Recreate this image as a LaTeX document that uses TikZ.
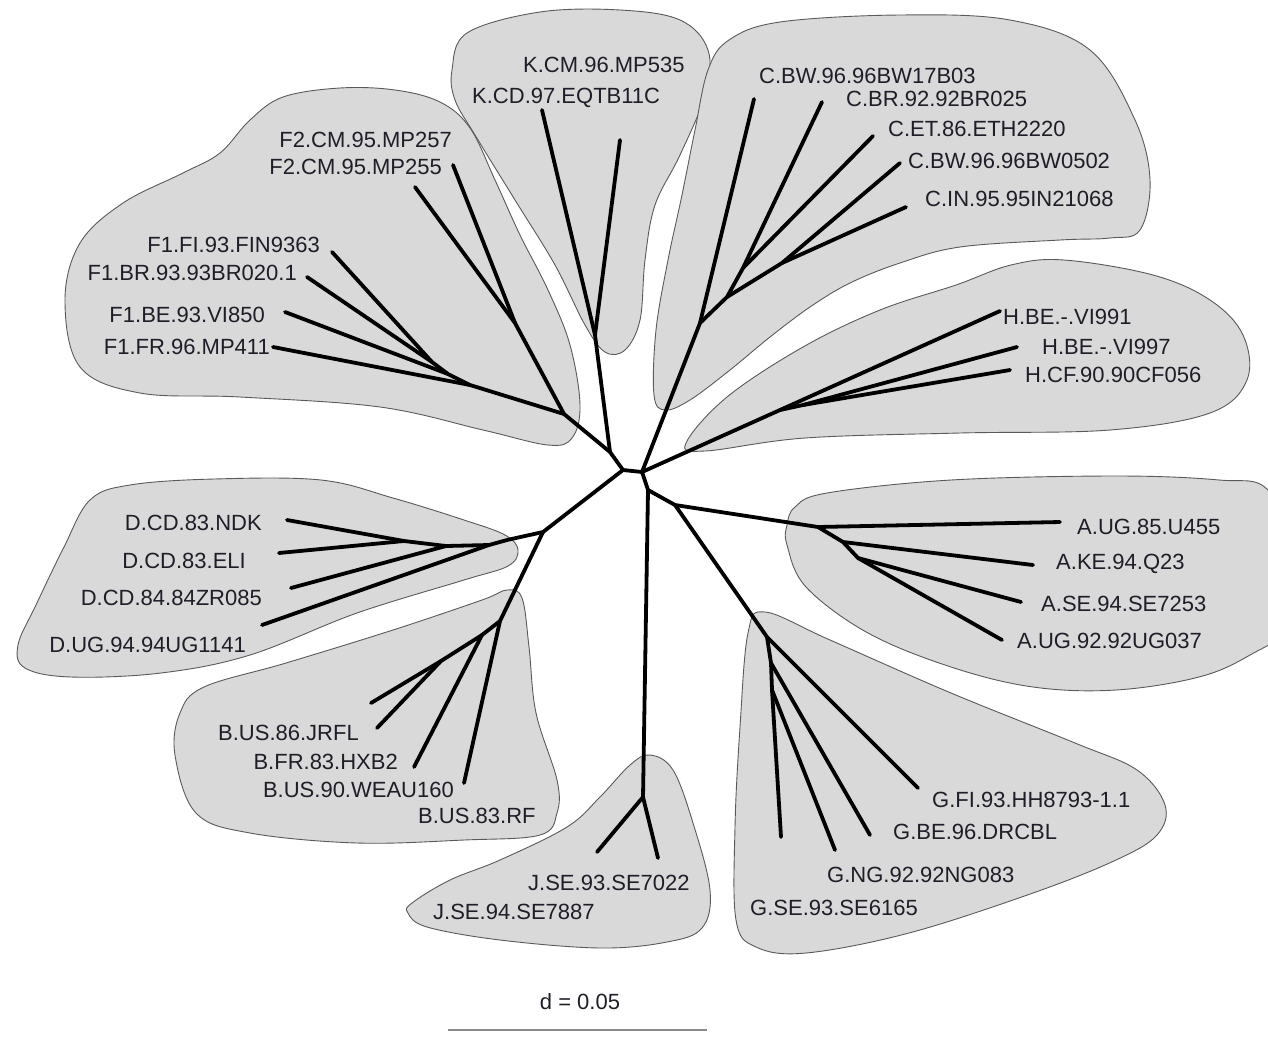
\documentclass[tikz,border=0pt]{standalone}
\usepackage{fontspec}
\setmainfont{Liberation Sans}
\newcommand\mylabfont{\fontsize{22}{26}\selectfont}
\definecolor{blobgray}{HTML}{D9D9D9}
\definecolor{blobline}{HTML}{5A5A5A}
\definecolor{labcol}{HTML}{1E1E28}
\definecolor{barcol}{HTML}{8A8A8A}
\begin{document}
\begin{tikzpicture}[x=1pt,y=-1pt,
  blob/.style={fill=blobgray,draw=blobline,line width=0.9pt},
  br/.style={line width=3.8pt,line cap=round,line join=round},
  labw/.style={font=\mylabfont,inner sep=0pt,text=labcol,anchor=west},
  labe/.style={font=\mylabfont,inner sep=0pt,text=labcol,anchor=east}]
\useasboundingbox (0,0) rectangle (1268,1037);
\clip (0,0) rectangle (1268,1037);
% ---------- blobs ----------
\draw[blob] plot[smooth cycle,tension=0.6] coordinates {(65,300) (80,243) (123,203) (183,173) (220,153) (250,120) (283,97) (340,88) (395,90) (440,102) (470,128) (495,180) (520,235) (548,290) (570,345) (580,405) (572,438) (548,445) (483,430) (380,407) (240,397) (140,393) (80,367)};
\draw[blob] plot[smooth cycle,tension=0.6] coordinates {(452,70) (467,33) (540,12) (620,10) (680,20) (708,50) (705,95) (680,155) (655,205) (645,260) (640,320) (625,350) (605,352) (585,325) (555,265) (515,200) (475,135) (455,100)};
\draw[blob] plot[smooth cycle,tension=0.6] coordinates {(729,40) (780,22) (900,15) (1010,20) (1090,50) (1135,120) (1150,180) (1140,230) (1110,238) (1060,240) (960,247) (900,263) (850,283) (810,307) (770,337) (730,370) (690,400) (665,410) (654,395) (656,330) (668,260) (682,195) (695,130) (708,70)};
\draw[blob] plot[smooth cycle,tension=0.6] coordinates {(686,443) (727,397) (803,347) (880,310) (956,285) (1011,265) (1064,260) (1153,275) (1210,300) (1243,335) (1247,380) (1210,413) (1110,430) (960,433) (805,438) (705,451)};
\draw[blob] plot[smooth cycle,tension=0.6] coordinates {(18,645) (36,605) (64,547) (90,500) (130,485) (214,479) (321,480) (393,498) (464,520) (505,535) (518,550) (508,566) (464,580) (357,613) (250,655) (161,673) (71,677) (25,668)};
\draw[blob] plot[smooth cycle,tension=0.6] coordinates {(175,755) (180,713) (204,687) (286,663) (393,630) (482,600) (507,590) (522,598) (529,647) (536,713) (557,780) (557,813) (540,835) (464,840) (357,843) (250,833) (196,813)};
\draw[blob] plot[smooth cycle,tension=0.6] coordinates {(650,755) (673,770) (693,823) (710,890) (702,928) (667,942) (600,948) (500,940) (427,927) (408,913) (412,903) (450,880) (500,860) (567,827) (600,797) (630,765)};
\draw[blob] plot[smooth cycle,tension=0.6] coordinates {(787,525) (795,507) (827,493) (951,480) (1116,476) (1219,480) (1268,490) (1300,560) (1290,625) (1250,655) (1199,677) (1116,690) (1033,687) (951,667) (868,633) (806,587) (787,545)};
\draw[blob] plot[smooth cycle,tension=0.6] coordinates {(765,612) (830,640) (951,693) (1075,743) (1137,770) (1165,805) (1157,835) (1116,860) (1033,893) (909,933) (806,953) (756,947) (736,920) (735,827) (740,727) (748,633)};
% ---------- tree nodes ----------
\coordinate (N0) at (623,470);
\coordinate (N1) at (642,472);
\coordinate (NFK) at (610,452);
\coordinate (NF) at (564,414);
\coordinate (NF2) at (515,323);
\coordinate (lF2a) at (453,165);
\coordinate (lF2b) at (415,187);
\coordinate (NF1c) at (470,385);
\coordinate (NF1b) at (448,374);
\coordinate (NF1a) at (432,362);
\coordinate (lFR) at (273,347);
\coordinate (lBE) at (285,312);
\coordinate (lFI) at (332,252);
\coordinate (lBR) at (307,277);
\coordinate (NK) at (595,335);
\coordinate (lKCD) at (542,110);
\coordinate (lKCM) at (620,140);
\coordinate (NDB) at (543,532);
\coordinate (ND) at (507,540);
\coordinate (ND3) at (489,545);
\coordinate (ND2) at (446,546);
\coordinate (ND1) at (404,541);
\coordinate (lDUG) at (262,625);
\coordinate (lDZR) at (291,588);
\coordinate (lDNDK) at (287,520);
\coordinate (lDELI) at (279,553);
\coordinate (NB) at (500,621);
\coordinate (NB2) at (482,635);
\coordinate (NB1) at (441,661);
\coordinate (lBRF) at (464,783);
\coordinate (lBWE) at (414,767);
\coordinate (lBJa) at (371,703);
\coordinate (lBJb) at (377,728);
\coordinate (NC4) at (700,323);
\coordinate (NC3) at (727,297);
\coordinate (NC2) at (743,268);
\coordinate (NC1) at (782,263);
\coordinate (lC17) at (754,99);
\coordinate (lCBR) at (822,102);
\coordinate (lCET) at (873,136);
\coordinate (lC05) at (900,163);
\coordinate (lCIN) at (906,207);
\coordinate (NH1) at (780,410);
\coordinate (NH2) at (803,405);
\coordinate (lH91) at (1000,311);
\coordinate (lH97) at (1017,347);
\coordinate (lHCF) at (1010,370);
\coordinate (NJA) at (648,490);
\coordinate (NJ) at (643,797);
\coordinate (lJ22) at (658,858);
\coordinate (lJ87) at (597,852);
\coordinate (NAG) at (675,505);
\coordinate (NA1) at (818,527);
\coordinate (NA2) at (843,542);
\coordinate (NA3) at (858,558);
\coordinate (lA55) at (1060,522);
\coordinate (lA23) at (1033,565);
\coordinate (lA53) at (1021,602);
\coordinate (lA37) at (1002,640);
\coordinate (NG1) at (767,637);
\coordinate (NG2) at (771,663);
\coordinate (NG3) at (772,690);
\coordinate (lGFI) at (918,788);
\coordinate (lGBE) at (870,835);
\coordinate (lGNG) at (835,850);
\coordinate (lGSE) at (781,837);
% ---------- branches ----------
\draw[br] (NDB) -- (N0) -- (NFK) -- (NF);
\draw[br] (N0) -- (N1);
\draw[br] (NF) -- (NF2) -- (lF2a);
\draw[br] (NF2) -- (lF2b);
\draw[br] (NF) -- (NF1c) -- (NF1b) -- (NF1a) -- (lFI);
\draw[br] (NF1a) -- (lBR);
\draw[br] (NF1b) -- (lBE);
\draw[br] (NF1c) -- (lFR);
\draw[br] (NFK) -- (NK) -- (lKCD);
\draw[br] (NK) -- (lKCM);
\draw[br] (NDB) -- (ND) -- (ND3) -- (ND2) -- (ND1) -- (lDNDK);
\draw[br] (ND1) -- (lDELI);
\draw[br] (ND2) -- (lDZR);
\draw[br] (ND3) -- (lDUG);
\draw[br] (NDB) -- (NB) -- (lBRF);
\draw[br] (NB) -- (NB2) -- (lBWE);
\draw[br] (NB2) -- (NB1) -- (lBJa);
\draw[br] (NB1) -- (lBJb);
\draw[br] (N1) -- (NC4) -- (lC17);
\draw[br] (NC4) -- (NC3) -- (NC2) -- (lCBR);
\draw[br] (NC2) -- (lCET);
\draw[br] (NC3) -- (NC1) -- (lC05);
\draw[br] (NC1) -- (lCIN);
\draw[br] (N1) -- (NH1) -- (lH91);
\draw[br] (NH1) -- (NH2) -- (lH97);
\draw[br] (NH2) -- (lHCF);
\draw[br] (N1) -- (NJA) -- (NJ) -- (lJ22);
\draw[br] (NJ) -- (lJ87);
\draw[br] (NJA) -- (NAG) -- (NA1) -- (lA55);
\draw[br] (NA1) -- (NA2) -- (lA23);
\draw[br] (NA2) -- (NA3) -- (lA53);
\draw[br] (NA3) -- (lA37);
\draw[br] (NAG) -- (NG1) -- (lGFI);
\draw[br] (NG1) -- (NG2) -- (lGBE);
\draw[br] (NG2) -- (NG3) -- (lGNG);
\draw[br] (NG3) -- (lGSE);
% ---------- labels ----------
\node[labw] (tK1) at (523,65) {K.CM.96.MP535};
\node[labw] (tK2) at (472,98) {K.CD.97.EQTB11C};
\node[labw] (tC1) at (759,76) {C.BW.96.96BW17B03};
\node[labw] (tC2) at (846,99) {C.BR.92.92BR025};
\node[labw] (tC3) at (888,129) {C.ET.86.ETH2220};
\node[labw] (tC4) at (908,161) {C.BW.96.96BW0502};
\node[labw] (tC5) at (925,199) {C.IN.95.95IN21068};
\node[labw] (tH1) at (1003,317) {H.BE.-.VI991};
\node[labw] (tH2) at (1042,347) {H.BE.-.VI997};
\node[labw] (tH3) at (1025,375) {H.CF.90.90CF056};
\node[labw] (tA1) at (1077,527) {A.UG.85.U455};
\node[labw] (tA2) at (1056,564) {A.KE.94.Q23};
\node[labw] (tA3) at (1041,604) {A.SE.94.SE7253};
\node[labw] (tA4) at (1017,641) {A.UG.92.92UG037};
\node[labw] (tG1) at (932,800) {G.FI.93.HH8793-1.1};
\node[labw] (tG2) at (893,832) {G.BE.96.DRCBL};
\node[labw] (tG3) at (827,875) {G.NG.92.92NG083};
\node[labw] (tG4) at (750,908) {G.SE.93.SE6165};
\node[labw] (tJ1) at (528,883) {J.SE.93.SE7022};
\node[labw] (tJ2) at (433,912) {J.SE.94.SE7887};
\node[labw] (tB4) at (418,816) {B.US.83.RF};
\node[labe] (tB3) at (454,790) {B.US.90.WEAU160};
\node[labe] (tB2) at (398,762) {B.FR.83.HXB2};
\node[labe] (tB1) at (359,733) {B.US.86.JRFL};
\node[labe] (tD4) at (246,645) {D.UG.94.94UG1141};
\node[labe] (tD3) at (262,598) {D.CD.84.84ZR085};
\node[labe] (tD2) at (246,561) {D.CD.83.ELI};
\node[labe] (tD1) at (262,523) {D.CD.83.NDK};
\node[labe] (tF6) at (270,347) {F1.FR.96.MP411};
\node[labe] (tF5) at (265,315) {F1.BE.93.VI850};
\node[labe] (tF4) at (297,273) {F1.BR.93.93BR020.1};
\node[labe] (tF3) at (320,245) {F1.FI.93.FIN9363};
\node[labe] (tF2) at (442,167) {F2.CM.95.MP255};
\node[labe] (tF1) at (452,140) {F2.CM.95.MP257};
% ---------- scale bar ----------
\node[font=\mylabfont,inner sep=0pt,text=labcol] (dlab) at (580,1002) {d = 0.05};
\coordinate (sb1) at (448,1030);
\coordinate (sb2) at (707,1030);
\draw[barcol,line width=2.4pt] (sb1) -- (sb2);
\end{tikzpicture}
\end{document}
